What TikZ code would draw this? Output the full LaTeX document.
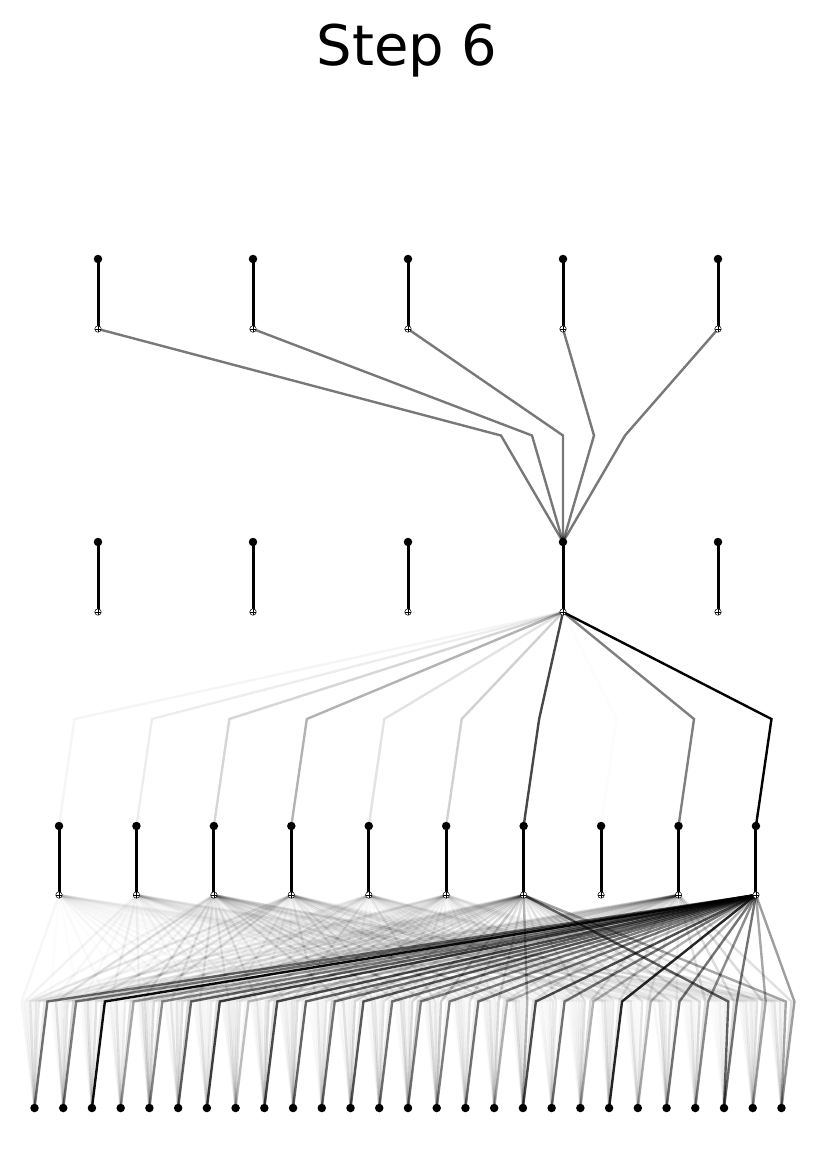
\documentclass[tikz,border=0pt]{standalone}
\usepackage{fontspec}
\setmainfont{DejaVu Sans}
\pgfdeclarelayer{edges}
\pgfsetlayers{edges,main}
\begin{document}
\begin{tikzpicture}[x=1pt,y=-1pt,
  edge/.style={line width=2.4pt, draw=black},
  stem/.style={line width=3pt, draw=black},
  dot/.style={circle, fill=black, inner sep=0pt, minimum size=8.5pt},
  port/.style={circle, draw=black, fill=white, line width=0.5pt, inner sep=0pt, minimum size=6.5pt,
    path picture={\draw[line width=0.4pt] (path picture bounding box.north) -- (path picture bounding box.south)
      (path picture bounding box.west) -- (path picture bounding box.east);}}]
\useasboundingbox (0,0) rectangle (814,1157);
\pgfmathsetseed{7}
\node[font=\fontsize{56}{60}\selectfont, anchor=base] (title) at (407,65) {Step 6};
% nodes
\foreach \k in {0,...,4} {
  \pgfmathsetmacro\x{98+155*\k}
  \node[dot] (aD\k) at (\x,259) {};
  \node[port] (aP\k) at (\x,329) {};
  \node[dot] (bD\k) at (\x,542) {};
  \node[port] (bP\k) at (\x,612) {};
}
\foreach \j in {0,...,9} {
  \pgfmathsetmacro\x{59+77.44*\j}
  \node[dot] (cD\j) at (\x,826) {};
  \node[port] (cP\j) at (\x,895) {};
}
\foreach \i in {0,...,26} {
  \pgfmathsetmacro\x{34.5+28.73*\i}
  \node[dot] (d\i) at (\x,1108) {};
}
\begin{pgfonlayer}{edges}
% top -> layer 2
\foreach \k in {0,...,4} {
  \pgfmathsetmacro\bx{563+31*(\k-2)}
  \coordinate (ab\k) at (\bx,435.5);
  \draw[edge, draw opacity=0.53] (aP\k.center) -- (ab\k) -- (bD3.center);
}
% layer 2 -> layer 3
\foreach \j/\o in {0/0.04,1/0.07,2/0.16,3/0.3,4/0.11,5/0.18,6/0.72,7/0.01,8/0.5,9/1} {
  \pgfmathsetmacro\bx{59+77.44*\j+15.5}
  \coordinate (bc\j) at (\bx,719);
  \draw[edge, draw opacity=\o] (bP3.center) -- (bc\j) -- (cD\j.center);
}
% layer 3 -> bottom, faint sources
\foreach \j/\base in {0/0.025,1/0.035,2/0.08,3/0.08,4/0.065,5/0.065,8/0.11} {
  \foreach \i in {0,...,26} {
    \pgfmathsetmacro\op{\base*(0.3+1.3*rnd)}
    \pgfmathsetmacro\bx{34.5+28.73*\i+(\j-4.5)*2.873}
    \coordinate (e\j-\i) at (\bx,1001.5);
    \draw[edge, draw opacity=\op] (cP\j.center) -- (e\j-\i) -- (d\i.center);
  }
}
% source 6
\foreach \i/\o in {0/0.08,1/0.1,2/0.12,3/0.08,4/0.15,5/0.12,6/0.08,7/0.1,8/0.15,9/0.12,10/0.1,11/0.15,12/0.12,13/0.15,14/0.2,15/0.12,16/0.15,17/0.3,18/0.08,19/0.12,20/0.08,21/0.1,22/0.12,23/0.15,24/0.62,25/0.12,26/0.35} {
  \pgfmathsetmacro\bx{34.5+28.73*\i+(6-4.5)*2.873}
  \coordinate (e6-\i) at (\bx,1001.5);
  \draw[edge, draw opacity=\o] (cP6.center) -- (e6-\i) -- (d\i.center);
}
% source 9
\foreach \i/\o in {0/0.55,1/0.5,2/0.95,3/0.35,4/0.45,5/0.6,6/0.75,7/0.25,8/0.7,9/0.6,10/0.55,11/0.65,12/0.55,13/0.5,14/0.5,15/0.55,16/0.3,17/0.7,18/0.55,19/0.3,20/0.85,21/0.3,22/0.55,23/0.45,24/0.55,25/0.35,26/0.38} {
  \pgfmathsetmacro\bx{34.5+28.73*\i+(9-4.5)*2.873}
  \coordinate (e9-\i) at (\bx,1001.5);
  \draw[edge, draw opacity=\o] (cP9.center) -- (e9-\i) -- (d\i.center);
}
% stems
\foreach \k in {0,...,4} {
  \draw[stem] (aD\k.center) -- (aP\k.center);
  \draw[stem] (bD\k.center) -- (bP\k.center);
}
\foreach \j in {0,...,9} {
  \draw[stem] (cD\j.center) -- (cP\j.center);
}
\end{pgfonlayer}
\end{tikzpicture}
\end{document}
